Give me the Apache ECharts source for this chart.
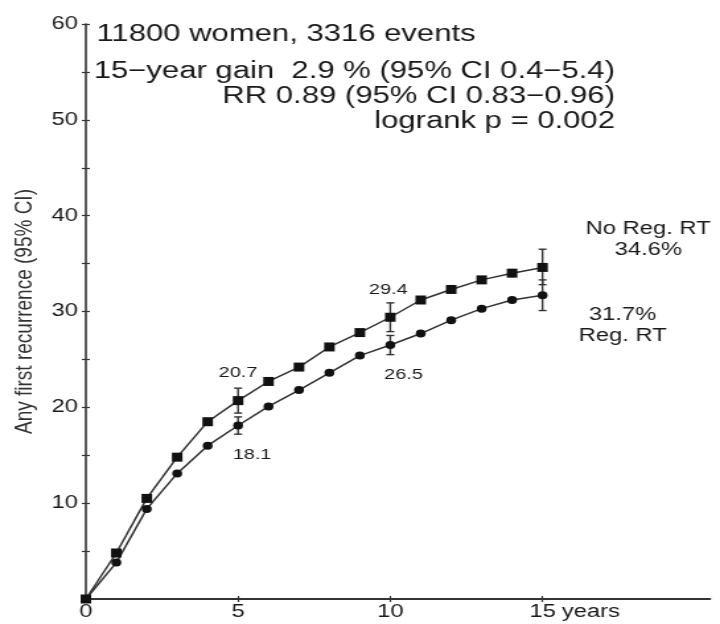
<!DOCTYPE html>
<html>
<head>
<meta charset="utf-8">
<script src="https://cdn.jsdelivr.net/npm/echarts@6/dist/echarts.min.js"></script>
<style>
  html, body { margin: 0; padding: 0; background: #fff; overflow: hidden; }
  /* the figure is drawn narrow and widened horizontally */
  #chart { width: 545px; height: 624px; transform: scaleX(1.3211); transform-origin: 0 0; }
</style>
</head>
<body>
<div id="chart"></div>
<script>
// Cumulative risk of any first recurrence (%), by year since randomisation
const years = [0, 1, 2, 3, 4, 5, 6, 7, 8, 9, 10, 11, 12, 13, 14, 15];
const noRegRT = [0, 4.8, 10.5, 14.8, 18.5, 20.7, 22.7, 24.2, 26.3, 27.8, 29.4, 31.2, 32.3, 33.3, 34.0, 34.6];
const regRT   = [0, 3.8, 9.4, 13.1, 16.0, 18.1, 20.1, 21.8, 23.6, 25.4, 26.5, 27.7, 29.1, 30.3, 31.2, 31.7];

// 95% confidence intervals at 5, 10 and 15 years
const ciYears  = [5, 10, 15];
const noRegLow = [19.4, 27.9, 32.8];
const noRegHigh = [22.0, 30.9, 36.5];
const regLow   = [17.2, 25.5, 30.1];
const regHigh  = [19.0, 27.5, 33.3];

// axis ticks and labels
const yTickValues  = [5, 10, 15, 20, 25, 30, 35, 40, 45, 50, 55, 60];
const yLabelValues = [10, 20, 30, 40, 50, 60];
const xTickValues  = [5, 10, 15];
const xLabelValues = [0, 5, 10, 15];

// header notes
const notes = [
  '11800 women, 3316 events',
  '15\u2212year gain  2.9 % (95% CI 0.4\u22125.4)',
  'RR 0.89 (95% CI 0.83\u22120.96)',
  'logrank p = 0.002'
];

const FONT = "'Liberation Sans', Arial, sans-serif";
const INK = '#1a1a1a';

const chart = echarts.init(document.getElementById('chart'));

function labelled(values, cfg) {
  return values.map((v, i) => {
    const item = { value: [years[i], v] };
    if (cfg[i]) item.label = Object.assign({ show: true }, cfg[i]);
    return item;
  });
}

const pointLabel = { position: 'inside', fontSize: 15, color: INK, fontFamily: FONT,
  formatter: p => p.value[1].toFixed(1) };
const endLabel = { position: 'inside', fontSize: 18, lineHeight: 21, color: INK, fontFamily: FONT, align: 'center' };

const noRegData = labelled(noRegRT, {
  5:  Object.assign({}, pointLabel, { offset: [0, -28] }),
  10: Object.assign({}, pointLabel, { offset: [-1.5, -27] }),
  15: Object.assign({}, endLabel, { offset: [80, -28], formatter: p => 'No Reg. RT\n' + p.value[1].toFixed(1) + '%' })
});
const regData = labelled(regRT, {
  5:  Object.assign({}, pointLabel, { offset: [10.6, 29] }),
  10: Object.assign({}, pointLabel, { offset: [10, 30] }),
  15: Object.assign({}, endLabel, { offset: [60.7, 30], formatter: p => p.value[1].toFixed(1) + '%\nReg. RT' })
});

function ciData(low, high) {
  return ciYears.map((x, i) => [x, low[i], high[i]]);
}

function renderCI(params, api) {
  const x = api.value(0);
  const lo = api.coord([x, api.value(1)]);
  const hi = api.coord([x, api.value(2)]);
  const w = 3;
  const st = { stroke: '#333', lineWidth: 1.4 };
  return {
    type: 'group',
    children: [
      { type: 'line', shape: { x1: lo[0], y1: lo[1], x2: hi[0], y2: hi[1] }, style: st },
      { type: 'line', shape: { x1: lo[0] - w, y1: lo[1], x2: lo[0] + w, y2: lo[1] }, style: st },
      { type: 'line', shape: { x1: hi[0] - w, y1: hi[1], x2: hi[0] + w, y2: hi[1] }, style: st }
    ]
  };
}

const axisText = { color: INK, fontSize: 18, fontFamily: FONT };

const option = {
  backgroundColor: '#fff',
  animation: false,
  grid: { left: 65, right: 7.6, top: 24, bottom: 25, outerBoundsMode: 'none' },
  xAxis: [
    {
      type: 'value', min: 0, max: 20.5, position: 'bottom',
      axisLine: { show: true, lineStyle: { color: '#333', width: 2 } },
      axisTick: { show: true, inside: false, length: 3, customValues: xTickValues, lineStyle: { color: '#333', width: 1.2 } },
      axisLabel: Object.assign({ margin: 4, customValues: xLabelValues }, axisText),
      splitLine: { show: false }
    },
    {
      type: 'value', min: 0, max: 20.5, position: 'bottom', offset: 0,
      axisLine: { show: false },
      axisTick: { show: true, inside: true, length: 3, customValues: xTickValues, lineStyle: { color: '#333', width: 1.2 } },
      axisLabel: { show: false },
      splitLine: { show: false }
    }
  ],
  yAxis: [
    {
      type: 'value', min: 0, max: 60, position: 'left',
      name: 'Any first recurrence (95% CI)', nameLocation: 'middle', nameGap: 36,
      nameTextStyle: { color: '#333', fontSize: 19, fontFamily: FONT },
      axisLine: { show: true, lineStyle: { color: '#333', width: 1.6 } },
      axisTick: { show: true, inside: false, length: 3, customValues: yTickValues, lineStyle: { color: '#333', width: 1.2 } },
      axisLabel: Object.assign({ margin: 6, customValues: yLabelValues }, axisText),
      splitLine: { show: false }
    },
    {
      type: 'value', min: 0, max: 60, position: 'left', offset: 0,
      axisLine: { show: false },
      axisTick: { show: true, inside: true, length: 3, customValues: yTickValues, lineStyle: { color: '#333', width: 1.2 } },
      axisLabel: { show: false },
      splitLine: { show: false }
    }
  ],
  series: [
    {
      name: 'No Reg. RT', type: 'line', data: noRegData,
      symbol: 'rect', symbolSize: [8, 9],
      itemStyle: { color: '#111' },
      lineStyle: { color: '#333', width: 1.5 },
      z: 3
    },
    {
      name: 'Reg. RT', type: 'line', data: regData,
      symbol: 'circle', symbolSize: [7.5, 8],
      itemStyle: { color: '#111' },
      lineStyle: { color: '#333', width: 1.5 },
      z: 3
    },
    { type: 'custom', data: ciData(noRegLow, noRegHigh), renderItem: renderCI, z: 2, silent: true },
    { type: 'custom', data: ciData(regLow, regHigh), renderItem: renderCI, z: 2, silent: true }
  ]
};

chart.setOption(option);

// header notes and the axis unit
const x15 = chart.convertToPixel({ xAxisIndex: 0 }, 15);
const y0 = chart.convertToPixel({ yAxisIndex: 0 }, 0);
const noteStyle = { fill: INK, fontSize: 23.5, fontFamily: FONT, textVerticalAlign: 'middle' };
chart.setOption({
  graphic: [
    { type: 'text', x: 73, y: 35, style: Object.assign({ text: notes[0], textAlign: 'left' }, noteStyle) },
    { type: 'text', x: 465.5, y: 72, style: Object.assign({ text: notes[1], textAlign: 'right' }, noteStyle) },
    { type: 'text', x: 465.5, y: 97, style: Object.assign({ text: notes[2], textAlign: 'right' }, noteStyle) },
    { type: 'text', x: 465.5, y: 122, style: Object.assign({ text: notes[3], textAlign: 'right' }, noteStyle) },
    { type: 'text', x: x15 + 14.5, y: y0 + 4, style: { text: 'years', fill: INK, fontSize: 18, fontFamily: FONT, textAlign: 'left', textVerticalAlign: 'top' } }
  ]
});
</script>
</body>
</html>
